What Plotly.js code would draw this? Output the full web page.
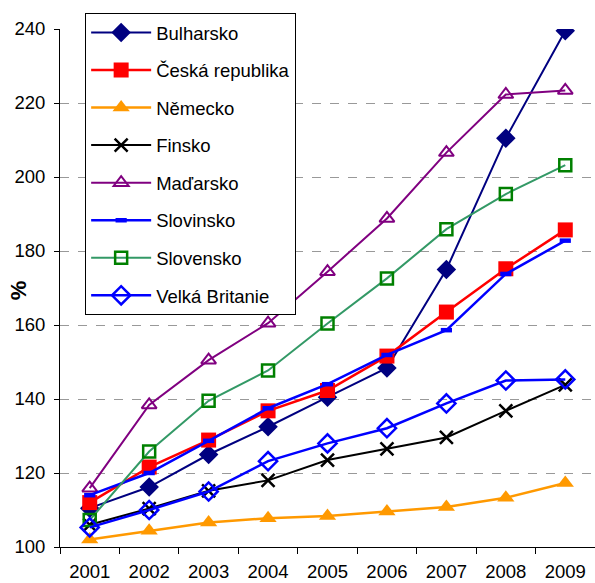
<!DOCTYPE html>
<html>
<head>
<meta charset="utf-8">
<script src="https://cdn.plot.ly/plotly-3.0.1.min.js"></script>
<style>html,body{margin:0;padding:0;background:#fff;}#chart{width:595px;height:583px;}</style>
</head>
<body>
<div id="chart"></div>
<script>
const years = ['2001','2002','2003','2004','2005','2006','2007','2008','2009'];
const bulharsko = [110.5, 116.2, 125.0, 132.5, 140.5, 148.4, 175.0, 210.5, 239.5];
const ceska = [112.0, 121.6, 128.9, 136.8, 142.3, 151.6, 163.5, 175.2, 185.7];
const nemecko = [102.0, 104.4, 106.6, 107.8, 108.4, 109.6, 110.8, 113.3, 117.3];
const finsko = [106.0, 110.4, 115.2, 118.0, 123.5, 126.5, 129.6, 136.8, 143.8];
const madarsko = [115.9, 138.4, 150.5, 160.5, 174.4, 188.8, 206.6, 222.3, 223.4];
const slovinsko = [114.0, 120.0, 128.7, 137.5, 144.0, 151.9, 158.6, 173.8, 182.8];
const slovensko = [107.3, 125.8, 139.5, 147.7, 160.4, 172.6, 185.9, 195.4, 203.2];
const britanie = [105.3, 110.0, 115.0, 123.2, 128.0, 132.1, 138.8, 145.0, 145.3];
const names = ['Bulharsko','Česká republika','Německo','Finsko','Maďarsko','Slovinsko','Slovensko','Velká Britanie'];

function tr(name, y, lineColor, sym, size, mColor, mLineColor, mLineW, lw) {
  return {
    x: years, y: y, name: name, type: 'scatter', mode: 'lines+markers',
    legendgroup: name,
    line: {color: lineColor, width: lw || 2},
    marker: {symbol: sym, size: size, color: mColor, line: {color: mLineColor, width: mLineW}}
  };
}

const data = [
  tr(names[0], bulharsko, '#000080', 'diamond', 15, '#000080', '#000080', 0, 2),
  tr(names[1], ceska, '#FF0000', 'square', 15, '#FF0000', '#FF0000', 0, 2.5),
  tr(names[2], nemecko, '#FF9900', 'triangle-up', 15, '#FF9900', '#FF9900', 0, 2.5),
  tr(names[3], finsko, '#000000', 'x-thin', 13, '#000000', '#000000', 2.5, 2),
  tr(names[4], madarsko, '#800080', 'triangle-up-open', 13, '#800080', '#800080', 2, 2),
  tr(names[5], slovinsko, '#0000FF', 'line-ew', 8, '#0000FF', '#0000FF', 4.5, 2.5),
  tr(names[6], slovensko, '#339966', 'square-open', 12, '#008000', '#008000', 2.5, 2),
  tr(names[7], britanie, '#0000FF', 'diamond-open', 14, '#0000FF', '#0000FF', 2.5, 2.5)
];

const layout = {
  width: 595, height: 583,
  margin: {l: 60, r: 0, t: 29, b: 36},
  paper_bgcolor: '#fff', plot_bgcolor: '#fff',
  font: {family: 'Liberation Sans, Arial, sans-serif', size: 18.5, color: '#000'},
  showlegend: true,
  legend: {
    x: 0.047, y: 1.031, xanchor: 'left', yanchor: 'top',
    bgcolor: '#fff', bordercolor: '#000', borderwidth: 1,
    font: {size: 18.5}, tracegroupgap: 10.5, itemwidth: 60, maxheight: 500
  },
  xaxis: {
    type: 'category', range: [-0.5, 8.5],
    tickson: 'boundaries', ticks: 'outside', ticklen: 6, tickcolor: '#000',
    showline: true, linecolor: '#000', linewidth: 1,
    showgrid: false, tickfont: {size: 18.5}, ticklabelstandoff: 8
  },
  yaxis: {
    range: [100, 240], dtick: 20, tick0: 100,
    ticks: 'outside', ticklen: 5, tickcolor: '#000',
    showline: true, linecolor: '#000', linewidth: 1,
    showgrid: true, gridcolor: '#999', griddash: 'dash', gridwidth: 1,
    zeroline: false, tickfont: {size: 18.5}, ticklabelstandoff: 5
  },
  annotations: [{
    text: '<b>%</b>', xref: 'paper', yref: 'paper', x: -0.078, y: 0.496,
    xanchor: 'center', yanchor: 'middle', textangle: -90, showarrow: false,
    font: {size: 22}
  }]
};

Plotly.newPlot('chart', data, layout, {displayModeBar: false, staticPlot: true});
</script>
</body>
</html>
